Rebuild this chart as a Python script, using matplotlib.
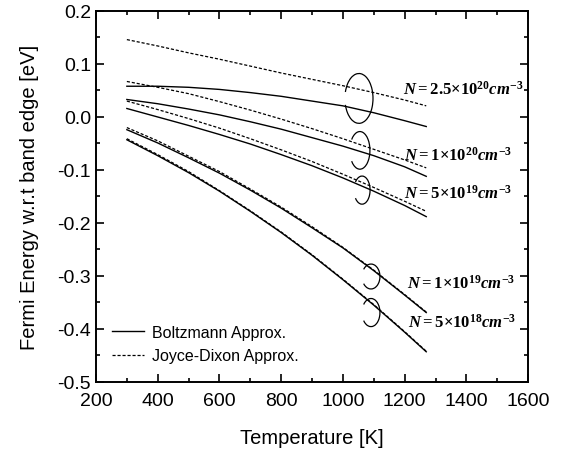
import matplotlib
matplotlib.use('Agg')
import numpy as np
import matplotlib.pyplot as plt
from matplotlib.patches import Arc
from matplotlib.ticker import MultipleLocator, FormatStrFormatter

plt.rcParams['font.family'] = ['Liberation Sans', 'DejaVu Sans']
plt.rcParams['axes.unicode_minus'] = False
plt.rcParams['mathtext.fontset'] = 'custom'
plt.rcParams['mathtext.rm'] = 'Liberation Serif:bold'
plt.rcParams['mathtext.it'] = 'Liberation Serif:bold:italic'
plt.rcParams['mathtext.bf'] = 'Liberation Serif:bold'

# temperature grid [K]
temp = [300, 400, 500, 600, 700, 800, 900, 1000, 1100, 1200, 1270]

# Fermi energy w.r.t. band edge [eV], Boltzmann approx.
boltz_25e20 = [0.058, 0.058, 0.056, 0.052, 0.046, 0.039, 0.030, 0.021, 0.008, -0.007, -0.018]
boltz_1e20 = [0.033, 0.025, 0.015, 0.004, -0.009, -0.023, -0.039, -0.055, -0.073, -0.094, -0.112]
boltz_5e19 = [0.016, 0.000, -0.016, -0.033, -0.051, -0.071, -0.092, -0.115, -0.140, -0.167, -0.188]
boltz_1e19 = [-0.024, -0.049, -0.077, -0.106, -0.138, -0.172, -0.209, -0.247, -0.290, -0.336, -0.369]
boltz_5e18 = [-0.043, -0.073, -0.105, -0.140, -0.178, -0.218, -0.261, -0.307, -0.355, -0.406, -0.443]

# Joyce-Dixon approx.
jd_25e20 = [0.146, 0.134, 0.121, 0.109, 0.096, 0.083, 0.071, 0.059, 0.046, 0.032, 0.021]
jd_1e20 = [0.067, 0.056, 0.044, 0.029, 0.013, -0.004, -0.022, -0.041, -0.061, -0.081, -0.096]
jd_5e19 = [0.030, 0.014, -0.003, -0.021, -0.041, -0.062, -0.084, -0.108, -0.133, -0.159, -0.178]
jd_1e19 = [-0.020, -0.045, -0.074, -0.103, -0.136, -0.170, -0.207, -0.246, -0.289, -0.335, -0.368]
jd_5e18 = [-0.041, -0.071, -0.103, -0.139, -0.177, -0.217, -0.260, -0.306, -0.354, -0.405, -0.442]

labels = [r'$N{=}2.5{\times}10^{20}cm^{-3}$', r'$N{=}1{\times}10^{20}cm^{-3}$',
          r'$N{=}5{\times}10^{19}cm^{-3}$', r'$N{=}1{\times}10^{19}cm^{-3}$',
          r'$N{=}5{\times}10^{18}cm^{-3}$']
label_pos = [(1195, 0.056), (1198, -0.070), (1198, -0.142), (1208, -0.310), (1211, -0.385)]
# loops: centre T, centre E, width [K], height [eV], gap (deg) on the left
loops = [(1052, 0.035, 91, 0.094, 15), (1055, -0.063, 65, 0.071, 35), (1062, -0.138, 52, 0.053, 35),
         (1091, -0.301, 58, 0.047, 35), (1091, -0.369, 58, 0.053, 35)]

fig = plt.figure(figsize=(5.63, 4.52), dpi=100)
ax = fig.add_axes([0.1705, 0.1527, 0.7675, 0.8208])

dash = (0, (2.5, 1.5))
for i, jd in enumerate([jd_25e20, jd_1e20, jd_5e19, jd_1e19, jd_5e18]):
    ax.plot(temp, jd, color='black', lw=0.9, ls=dash,
            label='Joyce-Dixon Approx.' if i == 0 else None)
for i, b in enumerate([boltz_25e20, boltz_1e20, boltz_5e19, boltz_1e19, boltz_5e18]):
    ax.plot(temp, b, color='black', lw=1.0,
            label='Boltzmann Approx.' if i == 0 else None)


def arc_angle(phi, w, h):
    # Arc stretches angles by w/h, undo it so phi is the parametric angle
    p = np.deg2rad(phi)
    return np.rad2deg(np.arctan2(h / w * np.sin(p), np.cos(p)))


for (tc, ec, w, h, gap) in loops:
    t1 = arc_angle(-180 + gap, w, h)
    t2 = arc_angle(180 - gap, w, h)
    ax.add_patch(Arc((tc, ec), w, h, theta1=t1, theta2=t2, color='black', lw=0.9))

for txt, (tx, ty) in zip(labels, label_pos):
    ax.text(tx, ty, txt, fontsize=12, va='center', ha='left')

ax.set_xlim(200, 1600)
ax.set_ylim(-0.5, 0.2)
ax.xaxis.set_major_locator(MultipleLocator(200))
ax.xaxis.set_minor_locator(MultipleLocator(100))
ax.yaxis.set_major_locator(MultipleLocator(0.1))
ax.yaxis.set_minor_locator(MultipleLocator(0.05))
ax.yaxis.set_major_formatter(FormatStrFormatter('%.1f'))
ax.tick_params(which='both', direction='in', top=True, right=True, labelsize=14, width=1.2)
ax.tick_params(which='major', length=6)
ax.tick_params(which='minor', length=3)
ax.tick_params(axis='x', which='major', pad=7)
for s in ax.spines.values():
    s.set_linewidth(1.4)

ax.set_xlabel('Temperature [K]', fontsize=14.5, labelpad=14)
ax.set_ylabel('Fermi Energy w.r.t band edge [eV]', fontsize=14.5, labelpad=13)

h, l = ax.get_legend_handles_labels()
ax.legend([h[1], h[0]], [l[1], l[0]], loc='lower left', bbox_to_anchor=(0.037, 0.05),
          frameon=False, fontsize=11.5, handlelength=2.0, handletextpad=0.5,
          borderpad=0, borderaxespad=0, labelspacing=0.55)

fig.savefig('out.png', dpi=100)
